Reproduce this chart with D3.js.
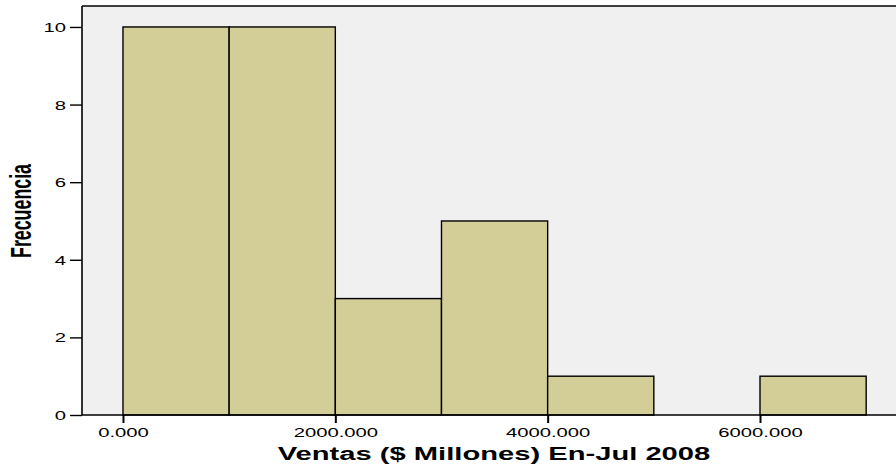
<!DOCTYPE html>
<html><head><meta charset="utf-8">
<script src="https://cdn.jsdelivr.net/npm/d3@7"></script>
<style>
html,body{margin:0;padding:0;background:#fff;}
svg{display:block;}
text{font-family:"Liberation Sans",Arial,Helvetica,sans-serif;fill:#000;}
</style></head>
<body>
<svg id="chart" width="896" height="466"></svg>
<script>
const binStart = [0, 1000, 2000, 3000, 4000, 5000, 6000];
const binEnd   = [1000, 2000, 3000, 4000, 5000, 6000, 7000];
const counts   = [10, 10, 3, 5, 1, 0, 1];
const xTicks   = [0, 2000, 4000, 6000];
const yTicks   = [0, 2, 4, 6, 8, 10];
const xTitle = "Ventas ($ Millones) En-Jul 2008";
const yTitle = "Frecuencia";

const SX = 1.62; // horizontal stretch of the original rendering
const svg = d3.select("#chart");
const pL = 82, pR = 896, pT = 6, pB = 415;

const x = d3.scaleLinear().domain([-386, 7281]).range([pL, pR]);
const y = d3.scaleLinear().domain([0, 10.54]).range([pB, pT]);

// plot background
svg.append("rect").attr("x", pL).attr("y", pT)
  .attr("width", pR - pL).attr("height", pB - pT)
  .attr("fill", "#f0f0f0");

// bars
const bins = binStart.map((s, i) => ({s, e: binEnd[i], c: counts[i]})).filter(d => d.c > 0);
svg.append("g").selectAll("rect").data(bins).join("rect")
  .attr("x", d => x(d.s)).attr("y", d => y(d.c))
  .attr("width", d => x(d.e) - x(d.s)).attr("height", d => y(0) - y(d.c))
  .attr("fill", "#d3ce98").attr("stroke", "#000").attr("stroke-width", 1.4);

// frame top line
svg.append("line").attr("x1", pL).attr("x2", pR).attr("y1", pT).attr("y2", pT)
  .attr("stroke", "#000").attr("stroke-width", 1.6);

// y axis
const gy = svg.append("g").attr("transform", `translate(${pL},0)`)
  .call(d3.axisLeft(y).tickValues(yTicks).tickSize(12).tickFormat(d3.format("d")));
gy.select(".domain").attr("d", `M0,${pT}V${pB}`).attr("stroke", "#000").attr("stroke-width", 1.6);
gy.selectAll(".tick line").attr("stroke", "#000").attr("stroke-width", 1.4);
gy.selectAll(".tick text")
  .attr("x", 0).attr("dy", null).attr("y", 4.5)
  .attr("text-anchor", "end")
  .attr("transform", `translate(-16,0) scale(${SX},1)`)
  .style("font-size", "12.5px").style("font-family", "Liberation Sans, Arial, sans-serif");

// x axis
const gx = svg.append("g").attr("transform", `translate(0,${pB})`)
  .call(d3.axisBottom(x).tickValues(xTicks).tickSize(8).tickFormat(d3.format(".3f")));
gx.select(".domain").attr("d", `M${pL},0H${pR}`).attr("stroke", "#000").attr("stroke-width", 1.6);
gx.selectAll(".tick line").attr("stroke", "#000").attr("stroke-width", 2);
gx.selectAll(".tick text")
  .attr("y", 0).attr("dy", null)
  .attr("text-anchor", "middle")
  .attr("transform", `translate(0,22) scale(${SX},1)`)
  .style("font-size", "12.5px").style("font-family", "Liberation Sans, Arial, sans-serif");

// titles
svg.append("text").text(xTitle)
  .attr("text-anchor", "middle").attr("font-weight", "bold")
  .style("font-size", "18px")
  .attr("transform", `translate(494,460) scale(${SX},1)`);

svg.append("text").text(yTitle)
  .attr("text-anchor", "middle").attr("font-weight", "bold")
  .style("font-size", "17.8px")
  .attr("transform", `translate(31,211) scale(${SX},1) rotate(-90)`);
</script>
</body></html>
